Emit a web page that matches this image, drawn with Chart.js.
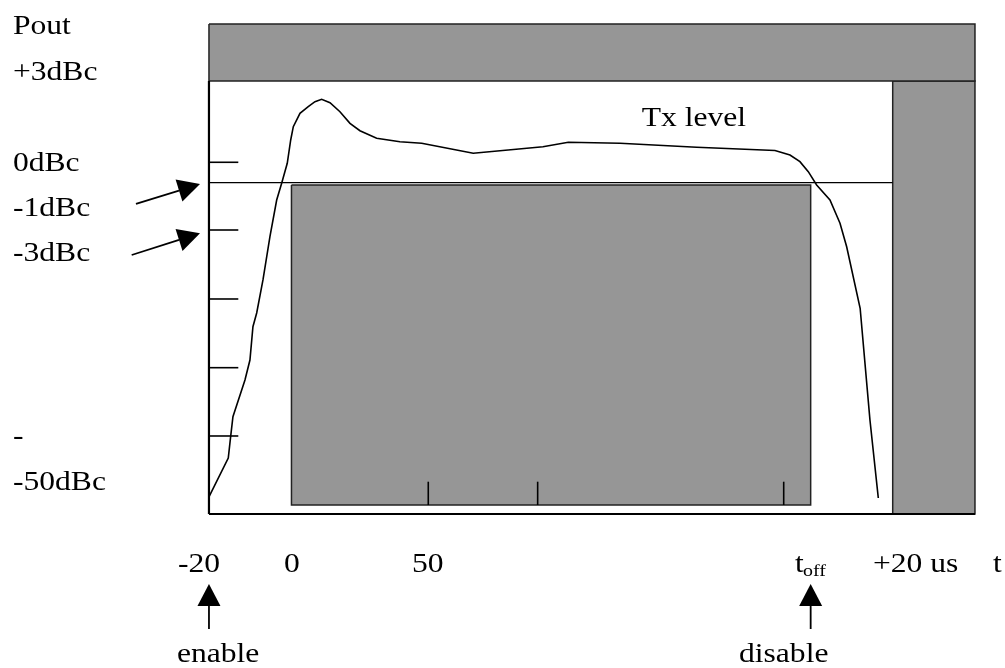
<!DOCTYPE html>
<html>
<head>
<meta charset="utf-8">
<script src="https://cdn.jsdelivr.net/npm/chart.js@4"></script>
<style>
  html, body { margin: 0; padding: 0; background: #fff; }
  #wrap { width: 1005px; height: 668px; position: relative; }
</style>
</head>
<body>
<div id="wrap"><canvas id="mask"></canvas></div>
<script>
// Diagram units: x 0 = left axis (-20), 100 = right edge of the mask
// y 0 = bottom axis, 100 = top of the +3dBc band
const txTime  = [0, 2.52, 2.83, 3.13, 4.70, 5.35, 5.74, 6.23, 7.05, 7.96, 8.84, 9.49, 10.22, 10.67, 11.01, 11.88, 12.96, 13.84, 14.71, 15.80, 17.10, 18.41, 19.71, 21.89, 24.93, 27.77, 34.50, 43.60, 46.91, 53.66, 63.67, 73.89, 75.85, 77.15, 78.24, 79.33, 81.07, 82.38, 83.25, 85.01, 86.29, 87.38];
const txLevel = [3.5, 11.43, 15.78, 19.86, 27.35, 31.43, 38.22, 41.02, 47.76, 56.59, 64.08, 67.49, 71.57, 76.33, 79.04, 81.78, 83.12, 84.14, 84.63, 83.94, 82.10, 79.73, 78.22, 76.67, 75.98, 75.65, 73.61, 74.96, 75.86, 75.65, 74.84, 74.18, 73.27, 71.90, 69.86, 67.14, 64.08, 59.33, 54.55, 41.98, 19.18, 3.27];

// mask boxes [x1, x2] / [y1, y2]
const upperMaskX = [0, 100];
const upperMaskY = [88.37, 100];
const rightMaskX = [89.26, 100];
const rightMaskY = [0, 88.37];
const lowerMaskX = [10.77, 78.55];
const lowerMaskY = [1.84, 67.14];
const minus1dBc = 67.61;

const levelTicks = [71.78, 57.96, 43.88, 29.86, 15.92];
const levelTickLen = 3.83;
const timeTicks = [28.63, 42.91, 75.03];
const timeTickTop = 6.59;

const levelLabels = ['Pout', '+3dBc', '0dBc', '-1dBc', '-3dBc', '-', '-50dBc'];
const levelLabelY = [97.96, 88.6, 70.0, 60.82, 51.6, 14.3, 4.9];
const levelLabelX = -25.59;

const timeLabels = ['-20', '0', '50', 't', '+20 us', 't'];
const timeLabelX = [-4.05, 9.79, 26.50, 76.50, 86.68, 102.35];
const timeLabelY = -11.78;

const eventLabels = ['enable', 'disable'];
const eventLabelX = [-4.18, 69.19];
const eventLabelY = -30.2;
const eventArrowX = [0, 78.55];
const eventArrowY = [-23.47, -14.29];

// -1dBc / -3dBc pointers: tail x,y -> tip x,y
const pointerFromX = [-9.53, -10.09];
const pointerFromY = [63.27, 52.86];
const pointerToX = [-1.17, -1.17];
const pointerToY = [67.35, 57.29];

const GRAY = '#969696';

function box(xs, ys) {
    return [
        {x: xs[0], y: ys[1]}, {x: xs[1], y: ys[1]},
        {x: xs[1], y: ys[0]}, {x: xs[0], y: ys[0]},
        {x: xs[0], y: ys[1]}
    ];
}

function seg(x1, y1, x2, y2, width) {
    return {
        data: [{x: x1, y: y1}, {x: x2, y: y2}],
        showLine: true, borderColor: '#000', borderWidth: width || 1.5,
        pointRadius: 0, fill: false
    };
}

const datasets = [];
// Tx level trace
datasets.push({
    data: txTime.map((t, i) => ({x: t, y: txLevel[i]})),
    showLine: true, borderColor: '#000', borderWidth: 1.6,
    pointRadius: 0, tension: 0, fill: false
});
levelTicks.forEach(v => datasets.push(seg(0, v, levelTickLen, v, 1.6)));
timeTicks.forEach(v => datasets.push(seg(v, lowerMaskY[0], v, timeTickTop, 1.6)));
datasets.push(seg(0, minus1dBc, rightMaskX[0], minus1dBc, 1.3));
datasets.push(seg(0, 0, 0, upperMaskY[0], 2.2));
datasets.push(seg(0, 0, 100, 0, 2.2));
[[upperMaskX, upperMaskY], [rightMaskX, rightMaskY], [lowerMaskX, lowerMaskY]].forEach(([xs, ys]) => {
    datasets.push({
        data: box(xs, ys), showLine: true,
        borderColor: '#222', borderWidth: 1.5, backgroundColor: GRAY,
        pointRadius: 0, fill: 'shape'
    });
});

const textFont = '27px "Liberation Serif", "Times New Roman", serif';
const subFont = '17px "Liberation Serif", "Times New Roman", serif';
const stretch = 1.17;

function drawText(ctx, text, px, py, font) {
    ctx.save();
    ctx.font = font;
    ctx.fillStyle = '#000';
    ctx.textAlign = 'left';
    ctx.textBaseline = 'alphabetic';
    ctx.translate(px, py);
    ctx.scale(stretch, 1);
    ctx.fillText(text, 0, 0);
    ctx.restore();
}

function drawArrow(ctx, x1, y1, x2, y2) {
    const ang = Math.atan2(y2 - y1, x2 - x1);
    const len = 22, half = 11.5;
    const bx = x2 - Math.cos(ang) * len, by = y2 - Math.sin(ang) * len;
    ctx.save();
    ctx.strokeStyle = '#000';
    ctx.fillStyle = '#000';
    ctx.lineWidth = 1.8;
    ctx.beginPath();
    ctx.moveTo(x1, y1);
    ctx.lineTo(bx, by);
    ctx.stroke();
    ctx.beginPath();
    ctx.moveTo(x2, y2);
    ctx.lineTo(bx - Math.sin(ang) * half, by + Math.cos(ang) * half);
    ctx.lineTo(bx + Math.sin(ang) * half, by - Math.cos(ang) * half);
    ctx.closePath();
    ctx.fill();
    ctx.restore();
}

const annotations = {
    id: 'annotations',
    afterDraw(chart) {
        const ctx = chart.ctx;
        const xs = chart.scales.x, ys = chart.scales.y;
        const X = v => xs.getPixelForValue(v), Y = v => ys.getPixelForValue(v);

        levelLabels.forEach((t, i) => drawText(ctx, t, X(levelLabelX), Y(levelLabelY[i]), textFont));
        timeLabels.forEach((t, i) => drawText(ctx, t, X(timeLabelX[i]), Y(timeLabelY), textFont));
        drawText(ctx, 'off', X(77.55), Y(-12.73), subFont);
        eventLabels.forEach((t, i) => drawText(ctx, t, X(eventLabelX[i]), Y(eventLabelY), textFont));
        drawText(ctx, 'Tx level', X(56.49), Y(79.18), textFont);

        eventArrowX.forEach(v => drawArrow(ctx, X(v), Y(eventArrowY[0]), X(v), Y(eventArrowY[1])));
        pointerFromX.forEach((v, i) => drawArrow(ctx, X(v), Y(pointerFromY[i]), X(pointerToX[i]), Y(pointerToY[i])));
    }
};

new Chart(document.getElementById('mask'), {
    type: 'scatter',
    data: { datasets },
    options: {
        responsive: true,
        maintainAspectRatio: false,
        animation: false,
        layout: { padding: 0 },
        scales: {
            x: { type: 'linear', min: -27.28, max: 103.92, display: false },
            y: { type: 'linear', min: -31.43, max: 104.9, display: false }
        },
        plugins: {
            legend: { display: false },
            tooltip: { enabled: false }
        }
    },
    plugins: [annotations]
});
</script>
</body>
</html>
